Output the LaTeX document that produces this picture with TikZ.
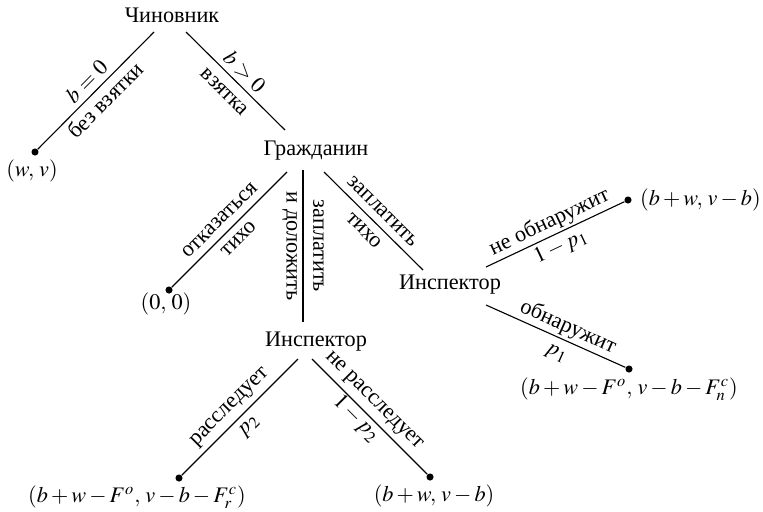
\documentclass[tikz,border=0pt]{standalone}
\usepackage{mathptmx}
\usepackage[no-math]{fontspec}
\setmainfont{Liberation Serif}
\newfontfamily\treefont{Liberation Serif}
\usetikzlibrary{positioning,calc}
\tikzset{
	player/.style={
		font=\treefont,
		inner sep=1pt},
	leaf/.style={
		circle,
		fill,
		inner sep=0pt,
		minimum size=3.2pt},
	payoff/.style={
		inner sep=1pt},
	move/.style={
		draw,
		line width=0.5pt},
	act/.style={
		midway,
		sloped,
		align=center,
		inner sep=0pt,
		font=\treefont},
}

\begin{document}
\begin{tikzpicture}[x=0.45pt, y=-0.45pt]
	\useasboundingbox (0,0) rectangle (763,511);

	% players
	\node [player] (official) at (172,15) {Чиновник};
	\node [player] (citizen) at (316,151) {Гражданин};
	\node [player] (inspA) at (450,285) {Инспектор};
	\node [player] (inspB) at (316,342) {Инспектор};

	% terminal points
	\node [leaf] (noBribe) at (35,152) {};
	\node [leaf] (refuse) at (169,290) {};
	\node [leaf] (notFound) at (628,200) {};
	\node [leaf] (found) at (629,369) {};
	\node [leaf] (probe) at (179,478) {};
	\node [leaf] (noProbe) at (430,477) {};

	% payoffs
	\node [payoff] at (32,171) (noBribeP) {$(w,\, v)$};
	\node [payoff] at (166,304) (refuseP) {$(0,\, 0)$};
	\node [payoff, right=2.5pt of notFound] (notFoundP) {$(b + w,\, v - b)$};
	\node [payoff] at (629,389) (foundP) {$(b + w - F^o,\, v - b - F^c_n)$};
	\node [payoff] at (137,497) (probeP) {$(b + w - F^o,\, v - b - F^c_r)$};
	\node [payoff] at (434,496) (noProbeP) {$(b + w,\, v - b)$};

	% official moves
	\draw [move] ($(official)+(-18,17)$) -- (noBribe)
		node [act] {$b = 0$\\без взятки};
	\draw [move] ($(official)+(14,17)$) -- ($(citizen)+(-31,-21)$)
		node [act] {$b > 0$\\взятка};

	% citizen moves
	\draw [move] ($(citizen)+(-29,21)$) -- (refuse)
		node [act] {отказаться\\тихо};
	\draw [move] ($(citizen)+(-13,19)$) -- ($(inspB)+(-13,-20)$)
		node [act] {заплатить\\и доложить};
	\draw [move] ($(citizen)+(8,21)$) -- ($(inspA)+(-27,-15)$)
		node [act] {заплатить\\тихо};

	% inspector moves
	\draw [move] ($(inspA)+(36,-18)$) -- (notFound)
		node [act] {не обнаружит\\$1 - p_1$};
	\draw [move] ($(inspA)+(36,20)$) -- (found)
		node [act, pos=0.55] {обнаружит\\$p_1$};
	\draw [move] ($(inspB)+(-18,17)$) -- (probe)
		node [act] {расследует\\$p_2$};
	\draw [move] ($(inspB)+(-4,17)$) -- (noProbe)
		node [act, pos=0.45] {не расследует\\$1 - p_2$};
\end{tikzpicture}
\end{document}
